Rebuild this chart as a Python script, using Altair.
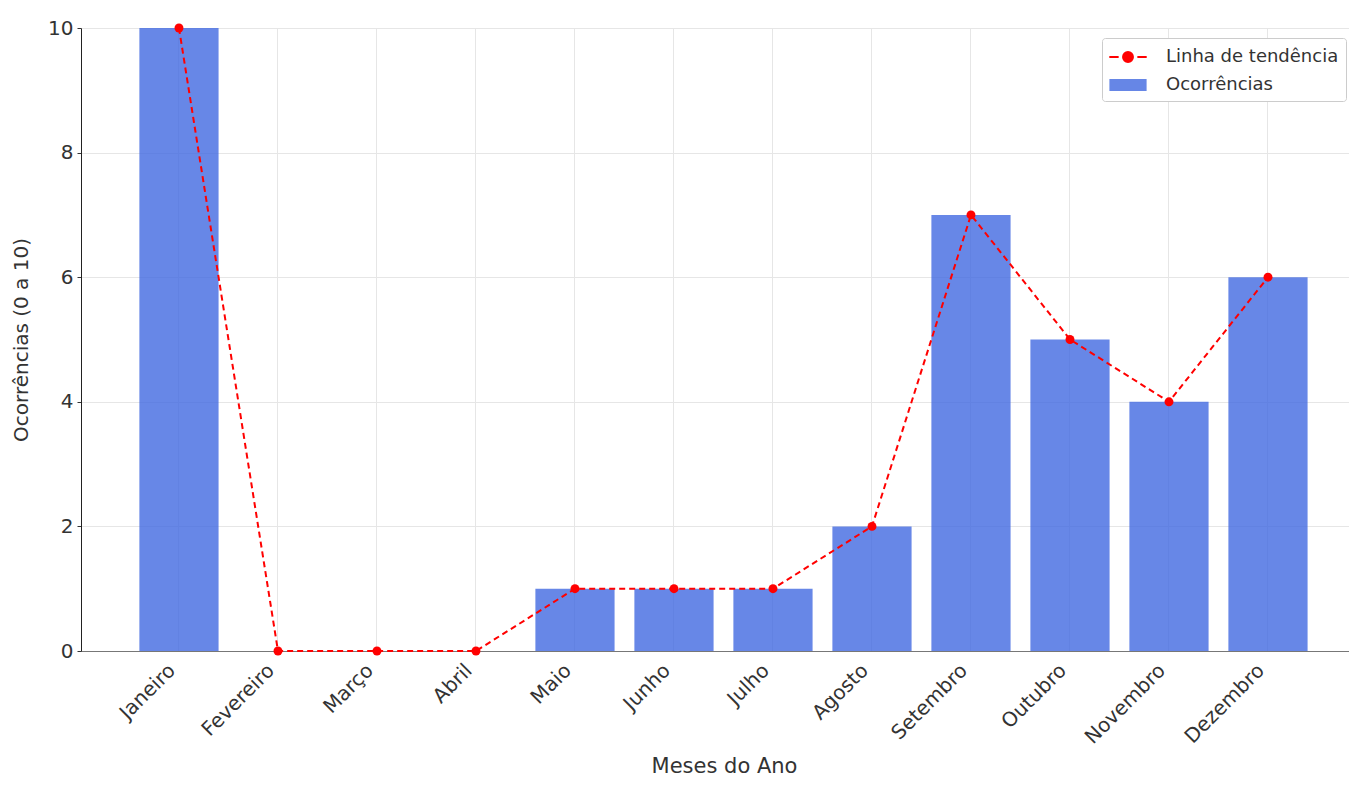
import altair as alt
import pandas as pd

meses = ["Janeiro", "Fevereiro", "Março", "Abril", "Maio", "Junho",
         "Julho", "Agosto", "Setembro", "Outubro", "Novembro", "Dezembro"]
ocorrencias = [10, 0, 0, 0, 1, 1, 1, 2, 7, 5, 4, 6]
series = ["Linha de tendência", "Ocorrências"]
y_ticks = [0, 2, 4, 6, 8, 10]

df = pd.DataFrame({"mes": meses, "valor": ocorrencias})

FONT = "DejaVu Sans"
BLUE = "#4169E1"
RED = "#FF0000"

line_shape = ("M-1.7,0H-0.85M0.85,0H1.7"
              "M-0.45,0A0.45,0.45,0,1,0,0.45,0A0.45,0.45,0,1,0,-0.45,0Z")
rect_shape = "M-1.6,-0.45H1.6V0.45H-1.6Z"
is_bar = "datum.value === 'Ocorrências'"

x_enc = alt.X("mes:N", sort=meses,
              scale=alt.Scale(paddingInner=0.2, paddingOuter=0.504, align=0.585),
              axis=alt.Axis(title="Meses do Ano", labelAngle=-45, grid=True,
                            labelFontSize=20, titleFontSize=21,
                            ticks=False, labelPadding=9, labelOffset=-14,
                            titleY=121, titleX=643, titleAlign="center",
                            titleBaseline="alphabetic",
                            domainColor="#777777"))
y_enc = alt.Y("valor:Q", scale=alt.Scale(domain=[0, 10], nice=False),
              axis=alt.Axis(title="Ocorrências (0 a 10)", values=y_ticks,
                            labelFontSize=20, titleFontSize=20, tickSize=4,
                            labelPadding=4, titleX=-60, titleBaseline="middle",
                            domainColor="#222222"))

color_enc = alt.Color(
    "serie:N",
    scale=alt.Scale(domain=series, range=[RED, BLUE]),
    legend=alt.Legend(
        title=None, orient="none", legendX=1021, legendY=10, padding=7,
        strokeColor="#cccccc", fillColor="white", cornerRadius=3,
        labelFontSize=18, labelFont=FONT, labelColor="#333333", labelLimit=400,
        symbolSize=484, rowPadding=7, labelOffset=26, symbolOffset=7,
        symbolType={"expr": f"{is_bar} ? '{rect_shape}' : '{line_shape}'"},
        symbolFillColor={"expr": f"{is_bar} ? '{BLUE}' : '{RED}'"},
        symbolStrokeColor={"expr": f"{is_bar} ? 'transparent' : '{RED}'"},
        symbolStrokeWidth=2,
        symbolOpacity={"expr": f"{is_bar} ? 0.8 : 1"},
    ),
)

bars = alt.Chart(df).transform_calculate(serie="'Ocorrências'").mark_bar(
    opacity=0.8
).encode(x=x_enc, y=y_enc, color=color_enc)

line = alt.Chart(df).transform_calculate(serie="'Linha de tendência'").mark_line(
    strokeDash=[6, 4], strokeWidth=2,
    point=alt.OverlayMarkDef(filled=True, size=80, opacity=1),
).encode(x=x_enc, y=y_enc, color=color_enc)

chart = alt.layer(bars, line).properties(
    width=1268, height=623,
    autosize=alt.AutoSizeParams(type="none"),
    padding={"left": 73, "top": 20, "right": 0, "bottom": 128},
).configure(font=FONT).configure_axis(
    gridColor="#e6e6e6", gridWidth=1, labelColor="#333333", titleColor="#333333",
    titleFontWeight="normal", tickColor="#333333", labelFont=FONT, titleFont=FONT,
).configure_view(stroke=None)

chart.save("out.html", embed_options={"renderer": "svg", "actions": False})
